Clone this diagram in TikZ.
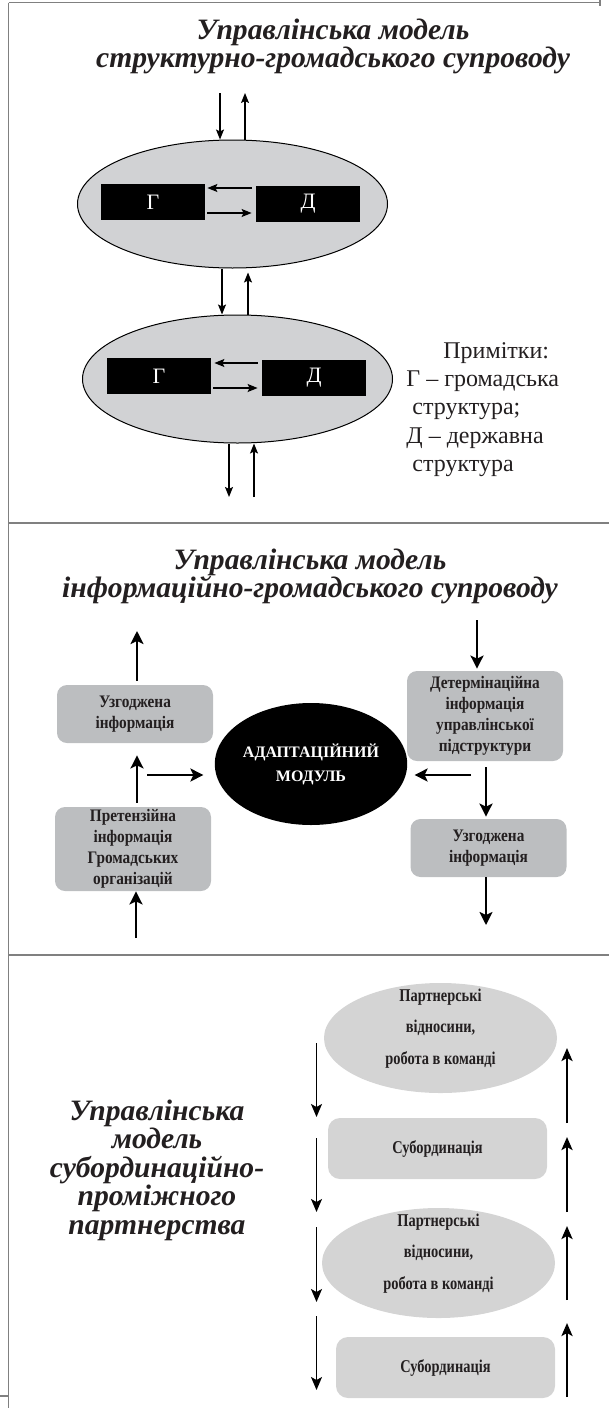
\documentclass[tikz,border=0pt]{standalone}
\usepackage{fontspec}
\setmainfont{Liberation Serif}
\newfontfamily\boxfont[FakeStretch=0.87]{Liberation Serif}
\newfontfamily\condfont[FakeStretch=0.8]{Liberation Serif}
\usetikzlibrary{arrows.meta,shapes.geometric}
\definecolor{ink}{HTML}{231F20}
\definecolor{ellfill}{HTML}{D1D2D4}
\definecolor{boxfill}{HTML}{BCBEC0}
\definecolor{lightfill}{HTML}{D4D4D4}
\definecolor{framegray}{HTML}{808080}
\begin{document}
\begin{tikzpicture}[x=0.5pt,y=-0.5pt,
  frameline/.style={draw=framegray,line width=0.8pt},
  ttl/.style={font=\fontsize{14.8}{14}\selectfont\bfseries\itshape,text=ink,align=center,inner sep=0pt},
  ellone/.style={ellipse,draw=black,line width=0.5pt,fill=ellfill,minimum width=155pt,minimum height=64pt,inner sep=0pt},
  blk/.style={rectangle,fill=black,text=white,minimum width=52pt,minimum height=18pt,inner sep=0pt,font=\fontsize{11}{12}\selectfont},
  note/.style={anchor=base west,inner sep=0pt,text=ink,font=\fontsize{12}{14}\selectfont},
  aone/.style={line width=0.65pt,-{Stealth[length=5pt,width=4pt,inset=1pt]}},
  gbox/.style={rectangle,rounded corners=5pt,fill=boxfill,minimum width=78pt,align=center,inner sep=0pt,text=ink,font=\boxfont\fontsize{8.8}{10.5}\selectfont\bfseries},
  atwo/.style={line width=1.15pt,-{Stealth[length=6.5pt,width=6.5pt,inset=1.5pt]}},
  pell/.style={ellipse,fill=lightfill,minimum width=116.5pt,minimum height=55pt,inner sep=0pt},
  ptext/.style={align=center,inner sep=0pt,text=ink,font=\condfont\fontsize{9}{15.75}\selectfont\bfseries},
  sbox/.style={rectangle,rounded corners=6pt,fill=lightfill,minimum width=109.5pt,minimum height=30.5pt,inner sep=0pt,text=ink,font=\condfont\fontsize{9}{11}\selectfont\bfseries},
  athin/.style={line width=0.8pt,-{Stealth[length=6.5pt,width=5.5pt,inset=1.5pt]}},
  athick/.style={line width=1.3pt,-{Stealth[length=6.5pt,width=5.5pt,inset=1.5pt]}}
]
\useasboundingbox (0,0) rectangle (609,1408);
% frame
\draw[frameline] (8.5,2.5) -- (600,2.5);
\draw[frameline] (600,0) -- (600,6);
\draw[frameline] (8.5,2.5) -- (8.5,1408);
\draw[frameline] (8.5,523) -- (609,523);
\draw[frameline] (8.5,955) -- (609,955);
\draw[frameline] (0,1396) -- (8.5,1396);

% ---------- section 1
\node[ttl] (t1) at (333,46) {Управлінська модель\\структурно-громадського супроводу};
\node[ellone] (e1) at (232.5,204) {};
\node[ellone] (e2) at (237.5,379) {};
\node[blk] (g1) at (153,202) {Г};
\node[blk] (d1) at (308,204) {Д};
\node[blk] (g2) at (159,376) {Г};
\node[blk] (d2) at (314,378) {Д};
\draw[aone,shorten <=2pt,shorten >=1pt] (d1.west |- 0,188) -- (g1.east |- 0,188);
\draw[aone,shorten <=1pt,shorten >=2pt] (g1.east |- 0,213) -- (d1.west |- 0,213);
\draw[aone,shorten <=2pt,shorten >=1.5pt] (d2.west |- 0,363) -- (g2.east |- 0,363);
\draw[aone,shorten <=1pt,shorten >=2pt] (g2.east |- 0,388) -- (d2.west |- 0,388);
\coordinate (in1) at (220,93);
\coordinate (out1) at (245,93);
\draw[aone] (in1) -- (in1 |- e1.north);
\draw[aone] (out1 |- e1.north) -- (out1);
\draw[aone] (222,0 |- e1.south) -- (222,0 |- e2.north);
\draw[aone,shorten >=2pt] (248,0 |- e2.north) -- (248,0 |- e1.south);
\coordinate (out2) at (229,497);
\coordinate (in2) at (254,497);
\draw[aone] (out2 |- e2.south) -- (out2);
\draw[aone] (in2) -- (in2 |- e2.south);
\node[note] (n1) at (443,358) {Примітки:};
\node[note] (n2) at (406,386) {Г – громадська};
\node[note] (n3) at (412,414) {структура;};
\node[note] (n4) at (406,443) {Д – державна};
\node[note] (n5) at (412,471) {структура};

% ---------- section 2
\node[ttl] (t2) at (310,576) {Управлінська модель\\інформаційно-громадського супроводу};
\node[gbox,minimum height=29pt] (boxL1) at (135,714) {Узгоджена\\інформація};
\node[gbox,minimum height=42pt] (boxL2) at (133,849) {Претензійна\\інформація\\Громадських\\організацій};
\node[gbox,minimum height=45pt] (boxR1) at (485,716) {Детермінаційна\\інформація\\управлінської\\підструктури};
\node[gbox,minimum height=29pt] (boxR2) at (488.5,848) {Узгоджена\\інформація};
\node[ellipse,fill=black,minimum width=72.5pt,minimum height=61pt,inner sep=0pt,text=white,align=center,font=\fontsize{8}{12}\selectfont\bfseries] (adapt) at (311,764) {АДАПТАЦІЙНИЙ\\МОДУЛЬ};
\coordinate (lup) at (137,631);
\draw[atwo,shorten <=2pt] (lup |- boxL1.north) -- (lup);
\draw[atwo,shorten <=2pt,shorten >=6pt] (lup |- boxL2.north) -- (lup |- boxL1.south);
\coordinate (lin) at (136,938);
\draw[atwo] (lin) -- (lin |- boxL2.south);
\coordinate (la) at (147,775);
\draw[atwo,shorten >=5.5pt] (la) -- (adapt.west |- la);
\coordinate (ra) at (471,775);
\draw[atwo,shorten >=3.5pt] (ra) -- (adapt.east |- ra);
\coordinate (rin) at (477,620);
\draw[atwo,shorten >=1pt] (rin) -- (rin |- boxR1.north);
\draw[atwo,shorten <=3pt,shorten >=1pt] (boxR1.south -| 486,0) -- (boxR2.north -| 486,0);
\coordinate (rout) at (486,925);
\draw[atwo] (boxR2.south -| rout) -- (rout);

% ---------- section 3
\node[ttl,font=\fontsize{14.8}{14.25}\selectfont\bfseries\itshape] (t3) at (157,1170) {Управлінська\\модель\\субординаційно-\\проміжного\\партнерства};
\node[pell] (pe1) at (440.5,1038) {};
\node[ptext] (pe1t) at (440.5,1028.5) {Партнерські\\відносини,\\робота в команді};
\node[sbox] (sub1) at (437.5,1148.5) {Субординація};
\node[pell] (pe2) at (438.5,1263) {};
\node[ptext] (pe2t) at (438.5,1253.5) {Партнерські\\відносини,\\робота в команді};
\node[sbox] (sub2) at (445.5,1367.5) {Субординація};
\coordinate (L1s) at (316.5,1043); \coordinate (L1e) at (316.5,1117);
\coordinate (L2s) at (316.5,1138); \coordinate (L2e) at (316.5,1212);
\coordinate (L3s) at (316.5,1227); \coordinate (L3e) at (316.5,1302);
\coordinate (L4s) at (316.5,1316); \coordinate (L4e) at (316.5,1390);
\draw[athin] (L1s) -- (L1e);
\draw[athin] (L2s) -- (L2e);
\draw[athin] (L3s) -- (L3e);
\draw[athin] (L4s) -- (L4e);
\coordinate (R1s) at (567,1123); \coordinate (R1e) at (567,1048);
\coordinate (R2s) at (567,1212); \coordinate (R2e) at (567,1137);
\coordinate (R3s) at (567,1300); \coordinate (R3e) at (567,1226);
\coordinate (R4s) at (567,1397); \coordinate (R4e) at (567,1323);
\draw[athick] (R1s) -- (R1e);
\draw[athick] (R2s) -- (R2e);
\draw[athick] (R3s) -- (R3e);
\draw[athick] (R4s) -- (R4e);
\end{tikzpicture}
\end{document}
